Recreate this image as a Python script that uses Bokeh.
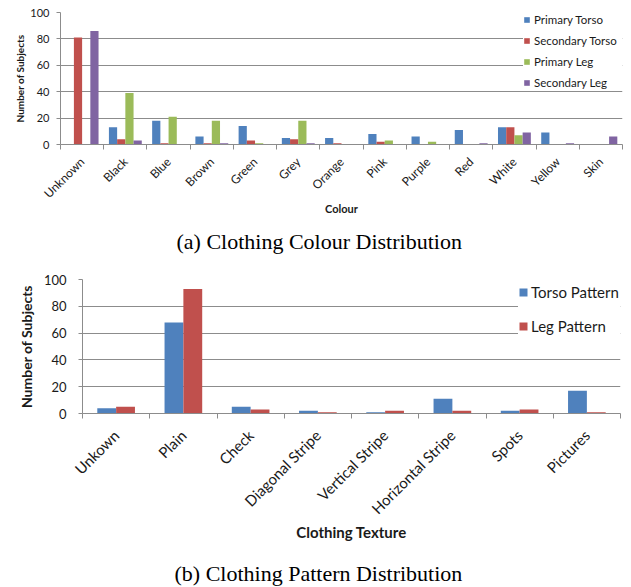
from math import pi
import numpy as np
from bokeh.plotting import figure
from bokeh.models import FixedTicker, Range1d, Legend, LegendItem, Title, ColumnDataSource
from bokeh.embed import file_html
from bokeh.resources import INLINE

# ---- data: chart (a) ----
colours = ["Unknown", "Black", "Blue", "Brown", "Green", "Grey", "Orange",
           "Pink", "Purple", "Red", "White", "Yellow", "Skin"]
primary_torso = [0, 13, 18, 6, 14, 5, 5, 8, 6, 11, 13, 9, 0]
secondary_torso = [81, 4, 1, 1, 3, 4, 1, 2, 0, 0, 13, 0, 0]
primary_leg = [0, 39, 21, 18, 1, 18, 0, 3, 2, 0, 7, 0, 0]
secondary_leg = [86, 3, 0, 1, 0, 1, 0, 0, 0, 1, 9, 1, 6]
series_a = ["Primary Torso", "Secondary Torso", "Primary Leg", "Secondary Leg"]

# ---- data: chart (b) ----
textures = ["Unkown", "Plain", "Check", "Diagonal Stripe", "Vertical Stripe",
            "Horizontal Stripe", "Spots", "Pictures"]
torso_pattern = [4, 68, 5, 2, 1, 11, 2, 17]
leg_pattern = [5, 93, 3, 1, 2, 2, 3, 1]
series_b = ["Torso Pattern", "Leg Pattern"]

y_ticks = [0, 20, 40, 60, 80, 100]

BLUE, RED, GREEN, PURPLE = "#4F81BD", "#C0504D", "#9BBB59", "#8064A2"
GRID = "#8C8C8C"
TXT = "#1a1a1a"
FONT = "Lato"
SERIF = "Liberation Serif"


def style(p, cats, tick_fs, ytick_fs, xlab_fs, ylab_fs, ylab_standoff, ytick_standoff):
    n = len(cats)
    p.x_range = Range1d(-0.5, n - 0.5)
    p.y_range = Range1d(0, 100)
    p.xaxis.ticker = FixedTicker(ticks=list(range(n)),
                                 minor_ticks=[i - 0.5 for i in range(n + 1)])
    p.xaxis.major_label_overrides = {i: c for i, c in enumerate(cats)}
    p.xaxis.major_label_orientation = pi / 4
    p.xaxis.major_tick_out = 0
    p.xaxis.major_tick_in = 0
    p.xaxis.minor_tick_out = 5
    p.xaxis.minor_tick_in = 0
    p.xaxis.minor_tick_line_color = GRID
    p.yaxis.ticker = FixedTicker(ticks=y_ticks)
    p.yaxis.major_tick_out = 4
    p.yaxis.major_tick_in = 0
    p.yaxis.minor_tick_line_color = None
    p.yaxis.major_tick_line_color = GRID
    p.yaxis.major_label_standoff = ytick_standoff
    p.yaxis.axis_label_standoff = ylab_standoff
    for ax in (p.xaxis[0], p.yaxis[0]):
        ax.axis_line_color = GRID
        ax.major_label_text_font = FONT
        ax.major_label_text_color = TXT
        ax.axis_label_text_font = FONT
        ax.axis_label_text_font_style = "bold"
        ax.axis_label_text_color = TXT
    p.xaxis.major_label_text_font_size = tick_fs
    p.yaxis.major_label_text_font_size = ytick_fs
    p.xaxis.axis_label_text_font_size = xlab_fs
    p.yaxis.axis_label_text_font_size = ylab_fs
    p.xgrid.visible = False
    p.ygrid.grid_line_color = GRID
    p.ygrid.ticker = FixedTicker(ticks=y_ticks)
    p.outline_line_color = None


def caption(p, text, offset, gap_fs):
    # spacer between the axis title and the caption
    p.add_layout(Title(text=" ", text_font=SERIF, text_font_size=gap_fs,
                       standoff=0), "below")
    p.add_layout(Title(text=text, align="left", offset=offset, text_font=SERIF,
                       text_font_size="22px", text_font_style="normal",
                       text_color="black", standoff=0), "below")


# ---------------- chart (a) ----------------
p1 = figure(width=631, height=258, output_backend="svg", toolbar_location=None,
            min_border_left=60, min_border_right=9, min_border_top=12,
            min_border_bottom=114, x_axis_label="Colour",
            y_axis_label="Number of Subjects")
style(p1, colours, "12px", "11px", "11px", "10px", 1, 7)
p1.xaxis.major_label_standoff = 10
p1.xaxis.axis_label_standoff = -7

xa = np.arange(len(colours))
wa = 0.19
items = []
for k, (vals, col, name) in enumerate(zip(
        [primary_torso, secondary_torso, primary_leg, secondary_leg],
        [BLUE, RED, GREEN, PURPLE], series_a)):
    src = ColumnDataSource(dict(x=xa + (k - 1.5) * wa, top=vals))
    r = p1.vbar(x="x", top="top", width=wa, bottom=0, source=src,
                fill_color=col, line_color=None)
    items.append(LegendItem(label=name, renderers=[r]))
leg1 = Legend(items=items, location=(463, 55), glyph_width=7, glyph_height=7,
              label_height=14, label_width=110, spacing=7, padding=0,
              label_standoff=4,
              label_text_font=FONT, label_text_font_size="11.5px",
              label_text_color=TXT, border_line_color=None,
              background_fill_color="white", background_fill_alpha=1.0)
p1.add_layout(leg1)
caption(p1, "(a) Clothing Colour Distribution", 116, "5.6px")

# ---------------- chart (b) ----------------
p2 = figure(width=631, height=329, output_backend="svg", toolbar_location=None,
            min_border_left=82, min_border_right=11, min_border_top=21,
            min_border_bottom=174, x_axis_label="Clothing Texture",
            y_axis_label="Number of Subjects")
style(p2, textures, "15px", "13px", "15px", "14px", 6, 12)
p2.xaxis.major_label_standoff = 14
p2.xaxis.axis_label_standoff = -4

xb = np.arange(len(textures))
wb = 0.28
items2 = []
for k, (vals, col, name) in enumerate(zip([torso_pattern, leg_pattern],
                                          [BLUE, RED], series_b)):
    src = ColumnDataSource(dict(x=xb + (k - 0.5) * wb, top=vals))
    r = p2.vbar(x="x", top="top", width=wb, bottom=0, source=src,
                fill_color=col, line_color=None)
    items2.append(LegendItem(label=name, renderers=[r]))
leg2 = Legend(items=items2, location=(436, 78), glyph_width=10, glyph_height=10,
              label_height=18, label_width=110, spacing=16, padding=2,
              label_standoff=3,
              label_text_font=FONT, label_text_font_size="15px",
              label_text_color=TXT, border_line_color=None,
              background_fill_color="white", background_fill_alpha=1.0)
p2.add_layout(leg2)
caption(p2, "(b) Clothing Pattern Distribution", 92, "11.7px")

open("out.html", "w").write(file_html([p1, p2], INLINE))
